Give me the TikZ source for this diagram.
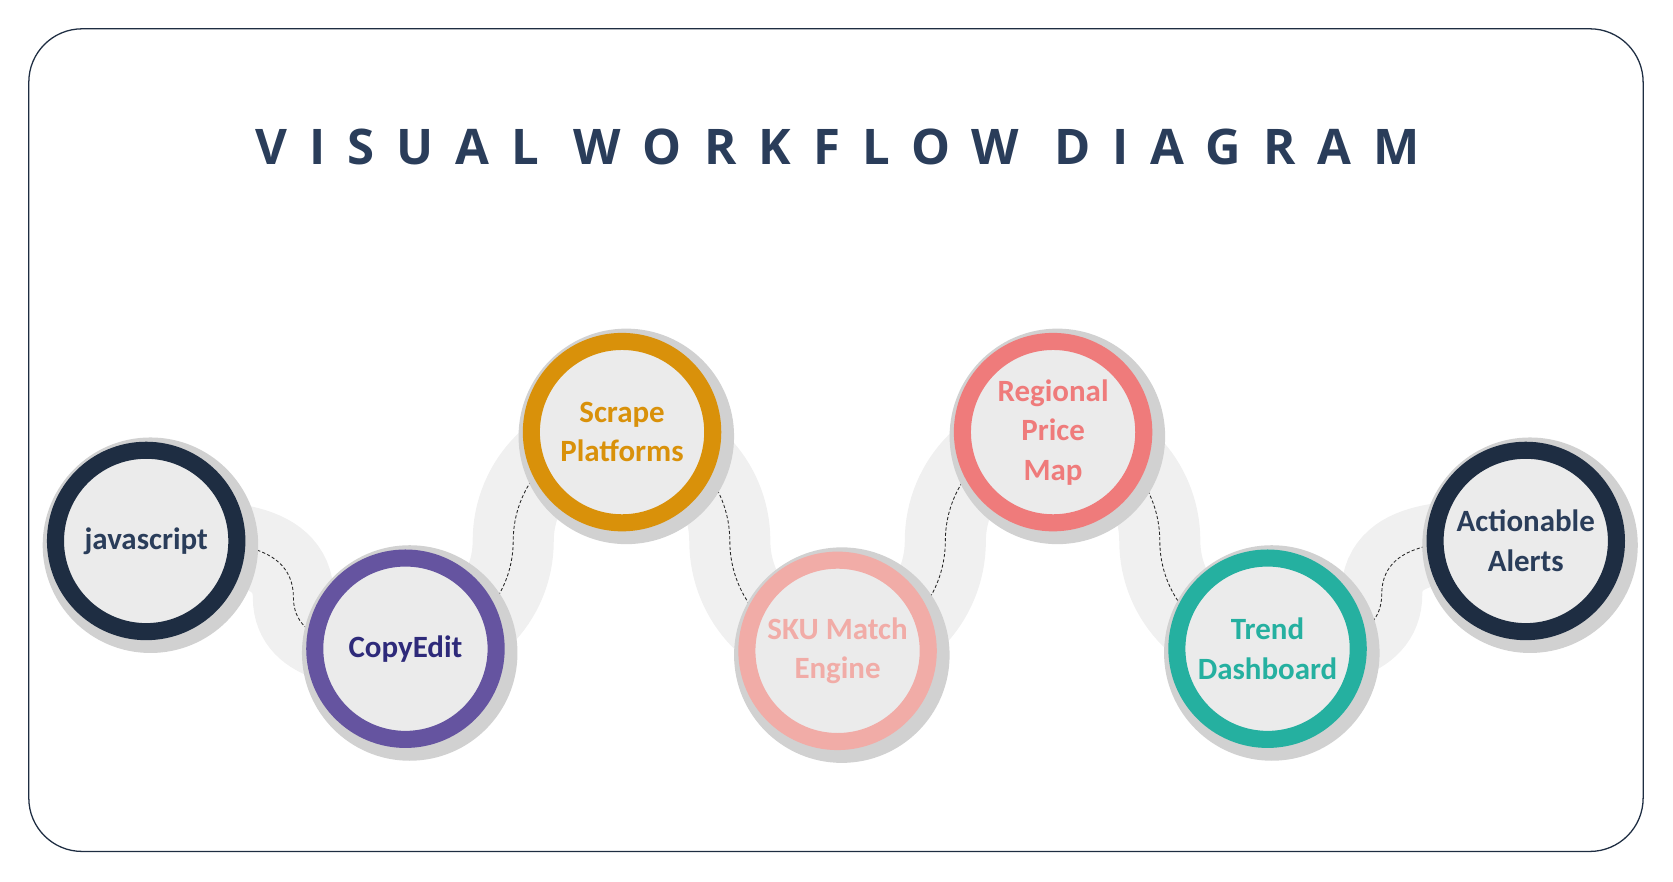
\documentclass[tikz,border=0pt]{standalone}
\usepackage{fontspec}
\setmainfont{Carlito}
\newfontfamily\titlefont{Open Sans}[LetterSpace=45]
\begin{document}
\begin{tikzpicture}[x=1pt,y=-1pt,
  band/.style={line width=76pt,draw=black!6},
  dashline/.style={densely dashed,line width=0.8pt,draw=black!85},
  step/.style={circle,minimum size=170pt,inner sep=0pt,fill=black!8,draw=#1,line width=16pt,
     align=center,font=\bfseries\fontsize{29}{37}\selectfont},
  shad/.style={circle,minimum size=202pt,fill=black!18}]
\definecolor{navy}{HTML}{1E2D42}
\definecolor{purp}{HTML}{6554A0}
\definecolor{purpt}{HTML}{2E2A7A}
\definecolor{orng}{HTML}{D9910A}
\definecolor{pink}{HTML}{F1ACA7}
\definecolor{coral}{HTML}{EF7B7B}
\definecolor{teal}{HTML}{25B0A0}
\definecolor{ttl}{HTML}{2A3D5A}
\useasboundingbox (0,0) rectangle (1568,826);
\draw[navy,line width=1.2pt,rounded corners=50pt] (27,27) rectangle (1540,798);
\node[font=\titlefont\bfseries\fontsize{46}{50}\selectfont,text=ttl] (title) at (785,138) {VISUAL WORKFLOW DIAGRAM};
\coordinate (p1) at (137,507); \coordinate (p2) at (380,608);
\coordinate (p3) at (583,405); \coordinate (p4) at (785,610);
\coordinate (p5) at (987,405); \coordinate (p6) at (1188,608);
\coordinate (p7) at (1430,507);
\draw[band] (p1) to[out=0,in=90] (275,560) to[out=-90,in=180] (p2);
\draw[band] (p2) to[out=0,in=-90] (481,507) to[out=90,in=180] (p3);
\draw[band] (p3) to[out=0,in=90] (684,507) to[out=-90,in=180] (p4);
\draw[band] (p4) to[out=0,in=-90] (886,507) to[out=90,in=180] (p5);
\draw[band] (p5) to[out=0,in=90] (1087,507) to[out=-90,in=180] (p6);
\draw[band] (p6) to[out=0,in=-90] (1295,557) to[out=90,in=180] (p7);
\draw[dashline] (p1) to[out=0,in=90] (275,560) to[out=-90,in=180] (p2);
\draw[dashline] (p2) to[out=0,in=-90] (481,507) to[out=90,in=180] (p3);
\draw[dashline] (p3) to[out=0,in=90] (684,507) to[out=-90,in=180] (p4);
\draw[dashline] (p4) to[out=0,in=-90] (886,507) to[out=90,in=180] (p5);
\draw[dashline] (p5) to[out=0,in=90] (1087,507) to[out=-90,in=180] (p6);
\draw[dashline] (p6) to[out=0,in=-90] (1295,557) to[out=90,in=180] (p7);
\foreach \p in {p1,p2,p3,p4,p5,p6,p7} \node[shad] at ([shift={(4,4)}]\p) {};
\node[step=navy,text=ttl] (n1) at (p1) {javascript};
\node[step=purp,text=purpt] (n2) at (p2) {CopyEdit};
\node[step=orng,text=orng] (n3) at (p3) {Scrape\\Platforms};
\node[step=pink,text=pink] (n4) at (p4) {SKU Match\\Engine};
\node[step=coral,text=coral] (n5) at (p5) {Regional\\Price\\Map};
\node[step=teal,text=teal] (n6) at (p6) {Trend\\Dashboard};
\node[step=navy,text=ttl] (n7) at (p7) {Actionable\\Alerts};
\end{tikzpicture}
\end{document}
